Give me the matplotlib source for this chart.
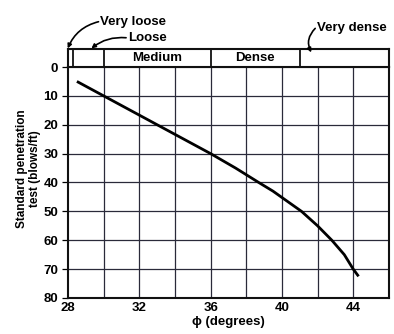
import matplotlib
matplotlib.use("Agg")
import matplotlib.pyplot as plt
from matplotlib.patches import FancyArrowPatch

plt.rcParams['font.family'] = ['Liberation Sans', 'DejaVu Sans']

# Friction angle (degrees) vs standard penetration resistance N (blows/ft)
phi = [28.5, 30.0, 33.0, 36.0, 37.4, 38.7, 39.5, 40.3, 41.1, 42.0, 42.8, 43.5, 44.0, 44.3]
n_blows = [5, 10, 20, 30, 35, 40, 43, 46.5, 50, 55, 60, 65, 70, 72.5]

# Relative density bands along the phi axis
band_edges = [28.0, 28.3, 30.0, 36.0, 41.0, 46.0]
band_labels = ["", "", "Medium", "Dense", ""]

x_ticks = [28, 32, 36, 40, 44]
y_ticks = [0, 10, 20, 30, 40, 50, 60, 70, 80]

fig = plt.figure(figsize=(3.94, 3.34), dpi=100)
ax = fig.add_axes([0.1726, 0.1078, 0.8144, 0.6916])

ax.set_xlim(28, 46)
ax.set_ylim(80, 0)
for gx in range(30, 46, 2):
    ax.axvline(gx, color="#2a2a3a", lw=0.9, zorder=1)
for gy in range(10, 80, 10):
    ax.axhline(gy, color="#2a2a3a", lw=0.9, zorder=1)

ax.plot(phi, n_blows, color="black", lw=2.0, zorder=3, solid_capstyle="butt")

for s in ax.spines.values():
    s.set_linewidth(1.5)
    s.set_color("#111111")

ax.set_xticks(x_ticks)
ax.set_yticks(y_ticks)
ax.tick_params(axis="x", length=0, pad=3, labelsize=9.5)
ax.tick_params(axis="y", length=4, width=0.9, pad=3, labelsize=9.5)
for lab in ax.get_xticklabels() + ax.get_yticklabels():
    lab.set_fontweight("bold")

ax.set_xlabel("\u03d5 (degrees)", fontsize=9.5, fontweight="bold", labelpad=1)
ax.set_ylabel("Standard penetration\ntest (blows/ft)", fontsize=8.5,
              fontweight="bold", linespacing=1.1)
ax.yaxis.set_label_coords(-0.085, 0.56)

# Density band strip above the plot
bx = fig.add_axes([0.1726, 0.7994, 0.8144, 0.054])
bx.set_xlim(28, 46)
bx.set_ylim(0, 1)
bx.set_xticks([])
bx.set_yticks([])
for s in bx.spines.values():
    s.set_linewidth(1.5)
    s.set_color("#111111")
for e in band_edges[1:-1]:
    bx.axvline(e, color="#111111", lw=1.3)
for lo, hi, lab in zip(band_edges[:-1], band_edges[1:], band_labels):
    if lab:
        bx.text((lo + hi) / 2, 0.5, lab, ha="center", va="center",
                fontsize=9.5, fontweight="bold")

# Callouts for the narrow / unlabeled bands
arrow_kw = dict(arrowstyle="-|>", color="black", lw=1.2, mutation_scale=6,
                shrinkA=0, shrinkB=0)
fig.text(0.255, 0.935, "Very loose", fontsize=9.5, fontweight="bold",
         ha="left", va="center")
fig.text(0.325, 0.887, "Loose", fontsize=9.5, fontweight="bold",
         ha="left", va="center")
fig.text(0.805, 0.915, "Very dense", fontsize=9.5, fontweight="bold",
         ha="left", va="center")
fig.add_artist(FancyArrowPatch(
    (0.250, 0.935), (0.172, 0.855), connectionstyle="arc3,rad=0.25",
    transform=fig.transFigure, **arrow_kw))
fig.add_artist(FancyArrowPatch(
    (0.320, 0.887), (0.232, 0.855), connectionstyle="arc3,rad=0.2",
    transform=fig.transFigure, **arrow_kw))
fig.add_artist(FancyArrowPatch(
    (0.800, 0.915), (0.790, 0.843), connectionstyle="arc3,rad=0.35",
    transform=fig.transFigure, **arrow_kw))

fig.savefig("out.png", dpi=100)
